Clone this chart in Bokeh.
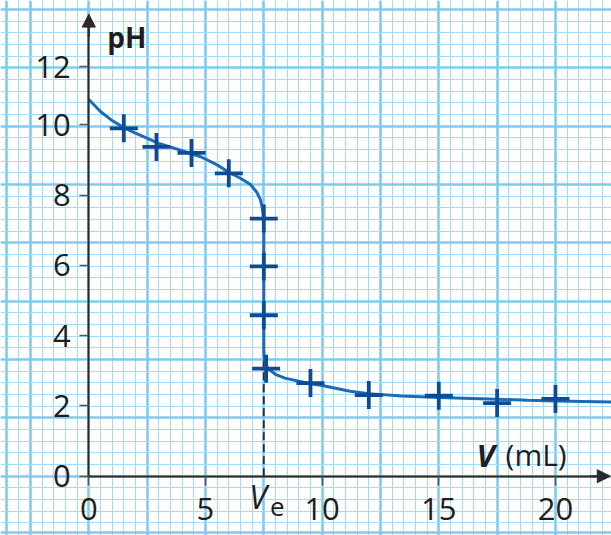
import numpy as np
from bokeh.plotting import figure
from bokeh.models import Range1d, LinearAxis, FixedTicker, Grid, Arrow, NormalHead, Label
from bokeh.embed import file_html
from bokeh.resources import INLINE

# ---- data ----
v_points = [1.5, 2.9, 4.4, 6.0, 7.5, 7.5, 7.5, 7.6, 9.5, 12.0, 15.0, 17.5, 20.0]
ph_points = [9.9, 9.37, 9.2, 8.62, 7.33, 5.97, 4.58, 3.06, 2.65, 2.31, 2.29, 2.08, 2.2]

v_curve = [0, 0.5, 1.0, 1.5, 2.0, 3.0, 4.0, 4.8, 5.5, 6.0, 6.5, 6.93, 7.2, 7.35, 7.43,
           7.48, 7.5, 7.5, 7.52, 7.58, 7.7, 8.0, 8.4, 9.0, 9.5, 10.0, 11.2, 12.0, 13.4,
           15.0, 17.5, 18.8, 20.0, 22.4]
ph_curve = [10.72, 10.38, 10.12, 9.92, 9.76, 9.47, 9.26, 9.09, 8.86, 8.65, 8.48, 8.3, 8.08,
            7.88, 7.66, 7.4, 7.0, 3.6, 3.36, 3.18, 3.05, 2.9, 2.79, 2.7, 2.63, 2.58, 2.42,
            2.35, 2.28, 2.24, 2.19, 2.16, 2.14, 2.11]

v_equiv = [7.5]
ph_equiv = [3.35]

x_ticks = [0, 5, 10, 15, 20]
x_tick_labels = ["0", "5", "10", "15", "20"]
y_ticks = [0, 2, 4, 6, 8, 10, 11.65]
y_tick_labels = ["0", "2", "4", "6", "8", "10", "12"]

# ---- layout ----
W, H = 611, 535
PX_ML = 23.333   # pixels per mL
PX_PH = 35.14    # pixels per pH unit
X0_PX, Y0_PX = 88.3, 475.7   # origin inside the figure (pixels)

x_start = -X0_PX / PX_ML
x_end = (W - X0_PX) / PX_ML
y_end = Y0_PX / PX_PH
y_start = -(H - Y0_PX) / PX_PH

p = figure(width=W, height=H, output_backend="svg", toolbar_location=None,
           x_axis_type=None, y_axis_type=None, min_border=0,
           x_range=Range1d(x_start, x_end), y_range=Range1d(y_start, y_end))
p.outline_line_color = None
p.background_fill_color = "white"
p.border_fill_color = "white"

# graph paper
maj_ml = 2.5
maj_ph = maj_ml * PX_ML / PX_PH
x_major = list(np.arange(-1, 10) * maj_ml) + [-82.3 / PX_ML]
x_minor = list(np.arange(-6, 46) * maj_ml / 5)
y_major = list(np.arange(0, 9) * maj_ph) + [-55.8 / PX_PH]
y_minor = list(np.arange(-4, 41) * maj_ph / 5)

MINOR_C = "#a3daf5"
MAJOR_C = "#7fcbef"
gx = Grid(dimension=0, ticker=FixedTicker(ticks=x_major, minor_ticks=x_minor),
          grid_line_color=MAJOR_C, grid_line_width=2.6,
          minor_grid_line_color=MINOR_C, minor_grid_line_width=1.1,
          bounds=(-82.3 / PX_ML, x_end))
gy = Grid(dimension=1, ticker=FixedTicker(ticks=y_major, minor_ticks=y_minor),
          grid_line_color=MAJOR_C, grid_line_width=2.6,
          minor_grid_line_color=MINOR_C, minor_grid_line_width=1.1,
          bounds=(-55.8 / PX_PH, 8 * maj_ph))
p.add_layout(gx)
p.add_layout(gy)

FONT = "Open Sans"
TXT = "#1e1e1e"
AX = "#2b2b2b"

xaxis = LinearAxis(fixed_location=0, ticker=FixedTicker(ticks=x_ticks),
                   major_label_overrides={t: l for t, l in zip(x_ticks, x_tick_labels)},
                   bounds=(0, 21.8))
yaxis = LinearAxis(fixed_location=0, ticker=FixedTicker(ticks=y_ticks),
                   major_label_overrides={t: l for t, l in zip(y_ticks, y_tick_labels)},
                   bounds=(0, 12.8))
for ax in (xaxis, yaxis):
    ax.axis_line_color = AX
    ax.axis_line_width = 2
    ax.major_tick_line_color = "#555555"
    ax.major_tick_line_width = 1.5
    ax.major_tick_out = 9
    ax.major_tick_in = 0
    ax.minor_tick_out = 0
    ax.minor_tick_in = 0
    ax.major_label_text_font = FONT
    ax.major_label_text_font_size = "31px"
    ax.major_label_text_color = TXT
xaxis.major_label_standoff = 13
yaxis.major_label_standoff = 9
p.add_layout(xaxis, "below")
p.add_layout(yaxis, "left")

# arrow heads
p.add_layout(Arrow(x_start=0, y_start=12.5, x_end=0, y_end=13.15,
                   line_color=AX, line_width=2,
                   end=NormalHead(size=13, fill_color=AX, line_color=AX, line_width=1)))
p.add_layout(Arrow(x_start=21.5, y_start=0, x_end=22.35, y_end=0,
                   line_color=AX, line_width=2,
                   end=NormalHead(size=13, fill_color=AX, line_color=AX, line_width=1)))

# equivalence dashed line
p.segment(x0=v_equiv, y0=[0], x1=v_equiv, y1=ph_equiv, line_color=AX,
          line_width=1.8, line_dash="8 4")

# curve and measured points
p.line(v_curve, ph_curve, line_color="#1b6cb8", line_width=3)
p.scatter(v_points, ph_points, marker="cross", size=28, line_width=3.8,
          line_color="#0d4b94")

# texts
p.add_layout(Label(x=0.79, y=12.51, text="pH", text_font=FONT, text_font_style="bold",
                   text_font_size="28px", text_color=TXT, text_baseline="alphabetic"))
p.add_layout(Label(x=16.62, y=0.61, text="V", text_font=FONT, text_font_style="bold italic",
                   text_font_size="31px", text_color=TXT, text_baseline="alphabetic"))
p.add_layout(Label(x=17.86, y=0.61, text="(mL)", text_font=FONT,
                   text_font_size="30px", text_color=TXT, text_baseline="alphabetic"))
p.add_layout(Label(x=v_equiv[0] - 0.62, y=-0.59, text="V", text_font=FONT,
                   text_font_style="italic", text_font_size="32px", text_color=TXT,
                   text_baseline="alphabetic"))
p.add_layout(Label(x=v_equiv[0] + 0.27, y=-0.88, text="e", text_font=FONT,
                   text_font_size="26px", text_color=TXT, text_baseline="alphabetic"))

open("out.html", "w").write(file_html(p, INLINE))
